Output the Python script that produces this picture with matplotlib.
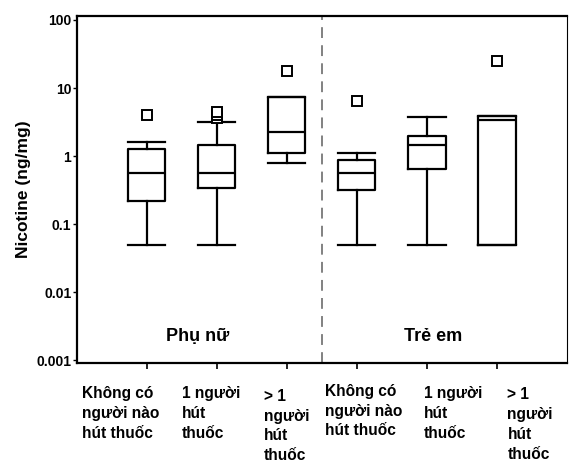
import numpy as np
import matplotlib
matplotlib.use("Agg")
import matplotlib.pyplot as plt
import matplotlib.transforms as mtransforms

plt.rcParams['font.family'] = ['Liberation Sans', 'DejaVu Sans']
plt.rcParams['font.weight'] = 'bold'

# box statistics (ng/mg)
groups = ["Không có\nngười nào\nhút thuốc", "1 người\nhút\nthuốc", "> 1\nngười\nhút\nthuốc",
          "Không có\nngười nào\nhút thuốc", "1 người\nhút\nthuốc", "> 1\nngười\nhút\nthuốc"]
whislo = [0.049, 0.049, 0.79, 0.049, 0.049, 0.049]
q1 = [0.22, 0.34, 1.1, 0.32, 0.64, 0.049]
med = [0.56, 0.56, 2.25, 0.56, 1.45, 3.4]
q3 = [1.27, 1.45, 7.4, 0.87, 1.97, 3.9]
whishi = [1.6, 3.2, 7.4, 1.1, 3.75, 3.9]
fliers = [[4.0], [3.6, 4.0, 4.4], [17.8], [6.4], [], [25.0]]
panel_names = ["Phụ nữ", "Trẻ em"]
ytick_vals = [0.001, 0.01, 0.1, 1, 10, 100]
ytick_labels = ["0.001", "0.01", "0.1", "1", "10", "100"]

fig = plt.figure(figsize=(5.69, 4.66), dpi=100)
ax = fig.add_axes([0.135, 0.221, 0.8615, 0.745])

stats = []
for i in range(len(groups)):
    stats.append(dict(whislo=whislo[i], q1=q1[i], med=med[i], q3=q3[i],
                      whishi=whishi[i], fliers=fliers[i]))

lw = 1.6
ax.bxp(stats, positions=range(1, 7), widths=0.53, showfliers=True,
       boxprops=dict(color='black', linewidth=lw),
       medianprops=dict(color='black', linewidth=lw),
       whiskerprops=dict(color='black', linewidth=lw),
       capprops=dict(color='black', linewidth=lw),
       capwidths=0.53,
       flierprops=dict(marker='s', markersize=6.5, markerfacecolor='white',
                       markeredgecolor='black', markeredgewidth=1.4, linestyle='none'))

ax.set_yscale('log')
ax.set_ylim(0.00091, 115)
ax.set_xlim(0, 7)
ax.axvline(3.5, color='#777777', linestyle=(0, (6, 4)), linewidth=1.3)

ax.set_yticks(ytick_vals)
ax.set_yticklabels(ytick_labels, fontsize=10, fontweight='bold')
ax.yaxis.set_minor_locator(matplotlib.ticker.NullLocator())
ax.tick_params(axis='y', length=3, width=1, pad=1)
ax.set_xticks(range(1, 7))
ax.set_xticklabels([])
ax.tick_params(axis='x', length=4, width=1.2)
for s in ax.spines.values():
    s.set_linewidth(1.6)
ax.spines['right'].set_linewidth(0.8)

ax.set_ylabel("Nicotine (ng/mg)", fontsize=12.5, fontweight='bold', labelpad=4)

ax.text(1.73, 0.0022, panel_names[0], fontsize=13, fontweight='bold', ha='center', va='center')
ax.text(5.09, 0.0022, panel_names[1], fontsize=13, fontweight='bold', ha='center', va='center')

trans = mtransforms.blended_transform_factory(ax.transData, ax.transAxes)
label_x = [0.08, 1.5, 2.67, 3.55, 4.96, 6.15]
label_y = [-0.066, -0.066, -0.074, -0.06, -0.066, -0.07]
for i, g in enumerate(groups):
    ax.text(label_x[i], label_y[i], g, transform=trans, fontsize=11.2, fontweight='bold',
            ha='left', va='top', linespacing=1.4)

fig.savefig("out.png", dpi=100)
